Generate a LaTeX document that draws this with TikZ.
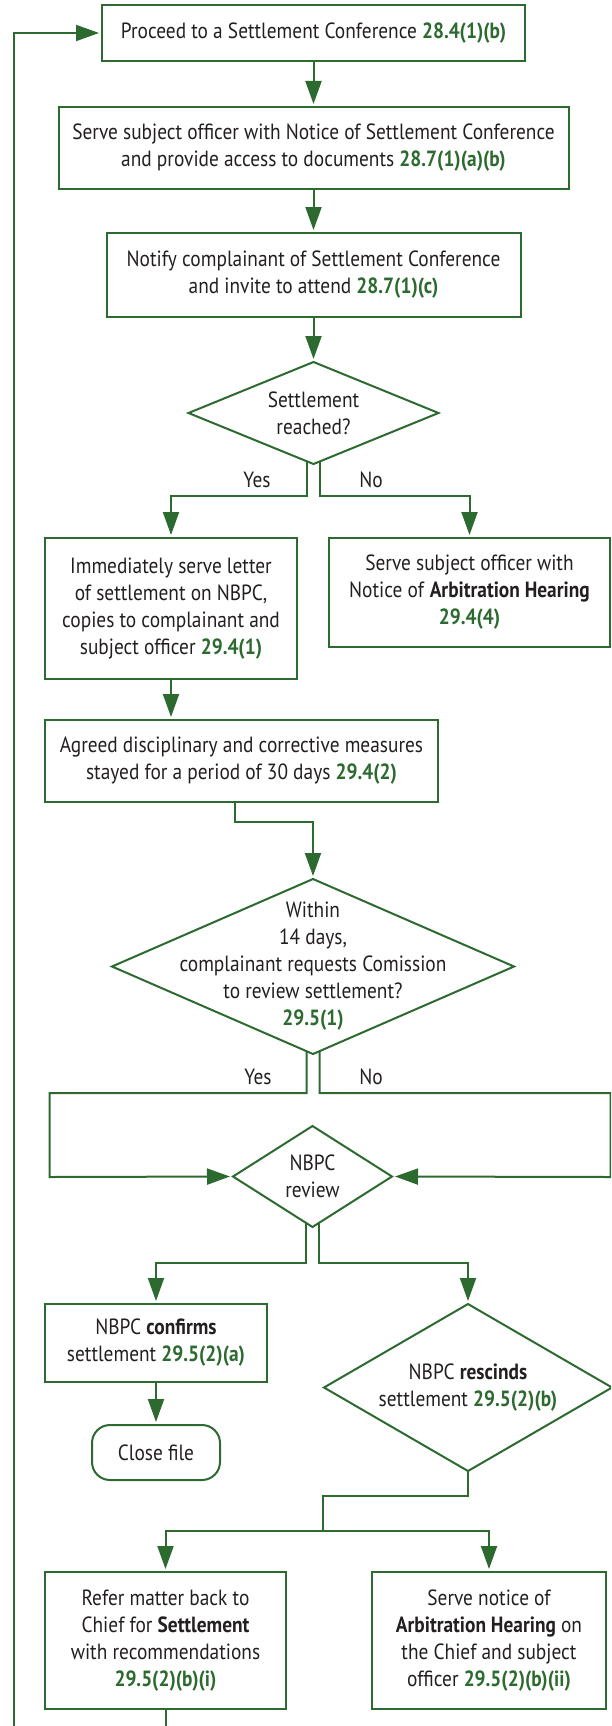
\documentclass[tikz,border=0pt]{standalone}
\usepackage{fontspec}
\setmainfont{PT Sans}[FakeStretch=0.88]
\usepackage{xcolor}
\usepackage{tikz}
\usetikzlibrary{shapes.geometric,arrows.meta,positioning,calc}
\definecolor{flow}{RGB}{44,106,47}
\definecolor{ink}{RGB}{35,31,32}
\newcommand{\clause}[1]{\textcolor{flow}{\textbf{#1}}}

\begin{document}
\begin{tikzpicture}[
    x=1pt, y=1pt,
    every node/.style={text=ink, font=\fontsize{22}{27}\selectfont},
    box/.style={draw=flow, line width=2pt, align=center, inner sep=0pt, outer sep=0pt},
    decision/.style={diamond, draw=flow, line width=2pt, inner sep=0pt, outer sep=0pt},
    dtext/.style={align=center},
    terminal/.style={draw=flow, line width=2pt, rounded corners=18pt, inner sep=0pt, outer sep=0pt},
    arrow/.style={-{Triangle[length=23pt,width=16pt]}, draw=flow, line width=2pt, shorten >=3pt},
    branch/.style={inner sep=0pt}
]
    \useasboundingbox (0,0) rectangle (611,-1726);
    \clip (0,0) rectangle (611,-1726);

    % Settlement conference
    \node[box, minimum width=423pt, minimum height=56pt] (proceed) at (313.5,-33) {Proceed to a Settlement Conference \clause{28.4(1)(b)}};
    \node[box, minimum width=510pt, minimum height=82pt, below=46pt of proceed] (serve) {Serve subject officer with Notice of Settlement Conference\\and provide access to documents \clause{28.7(1)(a)(b)}};
    \node[box, minimum width=414pt, minimum height=84pt, below=44pt of serve] (notify) {Notify complainant of Settlement Conference\\and invite to attend \clause{28.7(1)(c)}};
    \node[decision, minimum width=250pt, minimum height=102pt, below=45pt of notify, label={[dtext]center:{Settlement\\reached?}}] (reached) {};

    % Outcome of conference
    \node[box, minimum width=252pt, minimum height=141pt] (settled) at (171,-608.5) {Immediately serve letter\\of settlement on NBPC,\\copies to complainant and\\subject officer \clause{29.4(1)}};
    \node[box, minimum width=281pt, minimum height=109pt] (arbnotice) at (469.5,-592.5) {Serve subject officer with\\Notice of \textbf{Arbitration Hearing}\\\clause{29.4(4)}};
    \node[box, minimum width=393pt, minimum height=82pt] (stayed) at (241.5,-761) {Agreed disciplinary and corrective measures\\stayed for a period of 30 days \clause{29.4(2)}};

    % Review by NBPC
    \node[decision, minimum width=402pt, minimum height=175pt, label={[dtext]center:{Within\\14 days,\\complainant requests Comission\\to review settlement?\\\clause{29.5(1)}}}] (withinq) at (313,-966.5) {};
    \node[decision, minimum width=159pt, minimum height=101pt, label={[dtext]center:{NBPC\\review}}] (review) at (312.5,-1176.5) {};
    \node[box, minimum width=222pt, minimum height=78pt] (confirm) at (156,-1343) {NBPC \textbf{confirms}\\settlement \clause{29.5(2)(a)}};
    \node[terminal, minimum width=128pt, minimum height=55pt, below=43pt of confirm] (closefile) {Close file};
    \node[decision, minimum width=288pt, minimum height=167pt, label={[dtext]center:{NBPC \textbf{rescinds}\\settlement \clause{29.5(2)(b)}}}] (rescind) at (468,-1387.5) {};
    \node[box, minimum width=241pt, minimum height=137pt] (chiefref) at (165.5,-1640.5) {Refer matter back to\\Chief for \textbf{Settlement}\\with recommendations\\\clause{29.5(2)(b)(i)}};
    \node[box, minimum width=234pt, minimum height=137pt] (arbserve) at (489,-1640.5) {Serve notice of\\\textbf{Arbitration Hearing} on\\the Chief and subject\\officer \clause{29.5(2)(b)(ii)}};
    \coordinate (fork) at ($(rescind.south)+(-145,-60)$);

    % Branch labels
    \node[branch] (yesA) at (257,-480) {Yes};
    \node[branch] (noA) at (371,-480) {No};
    \node[branch] (yesB) at (258,-1077) {Yes};
    \node[branch] (noB) at (371,-1077) {No};

    % Connections
    \draw[arrow] (proceed) -- (serve);
    \draw[arrow] (serve) -- (notify);
    \draw[arrow] (notify) -- (reached);
    \draw[arrow] ($(reached.south)+(-6.5,3)$) -- ++(0,-35) -| (settled.north);
    \draw[arrow] ($(reached.south)+(6.5,3)$) -- ++(0,-35) -| (arbnotice.north);
    \draw[arrow] (settled) -- (settled |- stayed.north);
    \draw[arrow] ($(stayed.south)+(-6.5,0)$) -- ++(0,-20) -| (withinq.north);
    \draw[arrow] ($(withinq.south)+(-6.5,3)$) -- ++(0,-42) -| ++(-257,-84) -- (review.west);
    \draw[arrow] ($(withinq.south)+(6.5,3)$) -- ++(0,-42) -| ++(291,-84) -- (review.east);
    \draw[arrow] ($(review.south)+(-6.5,4)$) -- ++(0,-40) -| (confirm.north);
    \draw[arrow] ($(review.south)+(6.5,4)$) -- ++(0,-40) -| (rescind.north);
    \draw[arrow] (confirm) -- (closefile);
    \draw[draw=flow, line width=2pt] (rescind.south) -- ++(0,-25) -| (fork);
    \draw[arrow] (fork) -| (chiefref.north);
    \draw[arrow] (fork) -| (arbserve.north);
    \draw[arrow] (chiefref.south) -- ++(0,-40) -| ($(proceed.west)+(-88,0)$) -- (proceed.west);
\end{tikzpicture}
\end{document}
